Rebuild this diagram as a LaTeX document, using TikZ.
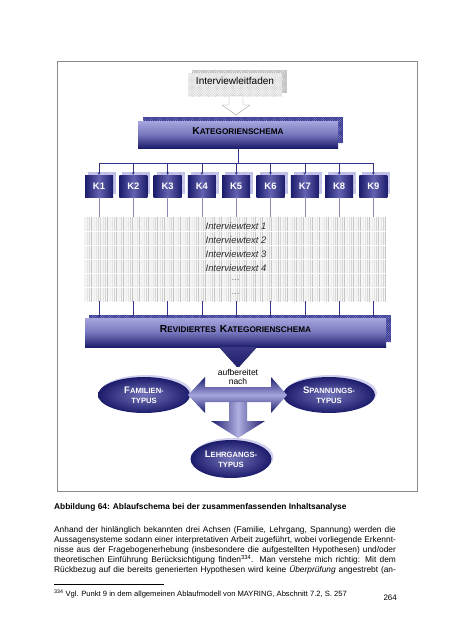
\documentclass[tikz,border=0pt]{standalone}
\usepackage{fontspec}
\setmainfont{Liberation Sans}
\usetikzlibrary{patterns,fit,shapes.geometric,arrows.meta}
\definecolor{navy}{HTML}{1C1C6C}
\definecolor{lav}{HTML}{A6A6DE}
\definecolor{midb}{HTML}{6262B0}
\definecolor{shad}{HTML}{3A3A92}
\definecolor{linec}{HTML}{34348A}
\definecolor{greyline}{HTML}{8888B4}
\definecolor{framec}{HTML}{8A8A8A}
\newcommand{\SCa}[2]{{\fontsize{13.5}{15}\selectfont #1}{\fontsize{10.8}{13}\selectfont #2}}
\newcommand{\SCb}[2]{{\fontsize{12.5}{13}\selectfont #1}{\fontsize{10}{13}\selectfont #2}}
\newcommand{\SCs}[1]{{\fontsize{10}{13}\selectfont #1}}
\def\pxu{1.3166pt}
\begin{document}
\begin{tikzpicture}[x=1.3166pt, y=-1.3166pt,
 ilfbox/.style={inner sep=0pt, preaction={fill=gray!12}, pattern=crosshatch dots, pattern color=gray!55, font=\fontsize{13.2}{15}\selectfont},
 graysh/.style={preaction={fill=gray!50}, pattern=crosshatch dots, pattern color=white},
 navysh/.style={preaction={fill=shad}, pattern=crosshatch dots, pattern color=lav},
 bigbox/.style={inner sep=0pt, top color=lav, bottom color=navy, middle color=midb!70!lav, font=\bfseries, text=black},
 kbox/.style={inner sep=0pt, minimum width={28*\pxu}, minimum height={22*\pxu}, text height=9pt, text depth=0pt, left color=navy, right color=navy, middle color=midb, text=white, font=\bfseries\fontsize{12.4}{14}\selectfont},
 ksh/.style={preaction={fill=lav!80}, pattern=crosshatch dots, pattern color=white},
 txtblock/.style={inner sep=0pt, preaction={fill=gray!8}, pattern=vertical lines, pattern color=gray!45},
 itxt/.style={font=\itshape\fontsize{12.4}{14}\selectfont, text=black!82, inner sep=0pt},
 bus/.style={draw=linec, line width=0.6pt},
 busarrow/.style={bus, -{Stealth[length=3.5pt,width=3.5pt]}},
 ell/.style={ellipse, inner sep=0pt, inner color=midb!90!white, outer color=navy, text=white, align=center, font=\bfseries\fontsize{12.5}{13}\selectfont},
 ellsh/.style={ellipse, inner sep=0pt, fill=lav!50},
 body/.style={anchor=base west, inner sep=0pt, font=\fontsize{11}{13}\selectfont},
]
\useasboundingbox[fill=white] (0,0) rectangle (452,640);

% frame
\node[draw=framec, line width=1.2pt, fit={(57,61) (417,491)}, inner sep=0pt] (frame) {};

% Interviewleitfaden
\path[graysh] (192,70) rectangle (287,93);
\node[ilfbox, fit={(188,73) (282,96)}] (ilf) {Interviewleitfaden};
\draw[gray!70, fill=white, line width=0.6pt] (229,96) -- (243,96) -- (243,105) -- (250,105) -- (236,115) -- (222,105) -- (229,105) -- cycle;

% Kategorienschema
\path[navysh] (143,117) rectangle (343,143);
\node[bigbox, fit={(138,121) (338,148)}] (kat) {\SCa{K}{ATEGORIENSCHEMA}};

% K boxes
\foreach \i in {1,...,9}{
  \pgfmathsetmacro{\cx}{99+34.3*(\i-1)}
  \path[ksh] ({\cx-11},172) rectangle ({\cx+17},194);
  \node[kbox] (k\i) at (\cx,186) {K\i};
}
\foreach \i in {1,...,9} \draw[busarrow] (kat.south) -- ++(0,15) -| (k\i.north);

% interview text block
\node[txtblock, fit={(84,217) (386,301)}] (blk) {};
\foreach \i in {1,...,5} \draw[white, line width=0.9pt] (84,{217+14*\i}) -- (386,{217+14*\i});
\foreach \i in {1,...,9} \draw[greyline, line width=0.6pt] (k\i.south) -- (k\i.south |- blk.north);
\node[itxt] (t1) at (236,226) {Interviewtext 1};
\node[itxt] (t2) at (236,240) {Interviewtext 2};
\node[itxt] (t3) at (236,254) {Interviewtext 3};
\node[itxt] (t4) at (236,268) {Interviewtext 4};
\node[itxt, text=black!55] (t5) at (236,280) {...};
\node[itxt, text=black!55] (t6) at (236,294) {...};

% revidiertes Kategorienschema
\path[navysh] (89,315) rectangle (391,342);
\node[bigbox, fit={(85,318) (386,347)}] (rev) {\SCa{R}{EVIDIERTES}\enspace\SCa{K}{ATEGORIENSCHEMA}};
\foreach \i in {1,...,9} \draw[busarrow] (k\i.south |- blk.south) -- (k\i.south |- rev.north);

% ellipses
\node[ellsh, minimum width={92*\pxu}, minimum height={36*\pxu}] at (146,393) {};
\node[ellsh, minimum width={92*\pxu}, minimum height={36*\pxu}] at (331,393) {};
\node[ellsh, minimum width={81*\pxu}, minimum height={38*\pxu}] at (233,457) {};
\node[ell, minimum width={92*\pxu}, minimum height={36*\pxu}] (fam) at (144,395) {\SCb{F}{AMILIEN-}\\\SCs{TYPUS}};
\node[ell, minimum width={92*\pxu}, minimum height={36*\pxu}] (spa) at (329,395) {\SCb{S}{PANNUNGS-}\\\SCs{TYPUS}};
\node[ell, minimum width={81*\pxu}, minimum height={38*\pxu}] (leh) at (231,459) {\SCb{L}{EHRGANGS-}\\\SCs{TYPUS}};

% arrows
\fill[top color=navy!80!lav, bottom color=navy] (219,347) -- (257,347) -- (238,368) -- cycle;
\path[left color=navy, right color=navy, middle color=lav!90!white] (229,401) -- (247,401) -- (247,421) -- (265,421) -- (238,438) -- (211,421) -- (229,421) -- cycle;
\path[top color=navy, bottom color=navy, middle color=lav] (188,395) -- (205,377) -- (205,387) -- (271,387) -- (271,377) -- (287,395) -- (271,413) -- (271,402) -- (205,402) -- (205,413) -- cycle;
\node[fill=white, inner sep=0pt, minimum width={61*\pxu}, minimum height={20*\pxu}, align=center, font=\fontsize{11.2}{13}\selectfont] (aufb) at (238,377) {aufbereitet\\nach};

% text below
\node[body, font=\bfseries\fontsize{11}{13}\selectfont] (cap) at (54,509.5) {Abbildung 64: Ablaufschema bei der zusammenfassenden Inhaltsanalyse};
\node[body] (p1) at (54,532.8) {\hbox to 450pt{Anhand der hinlänglich bekannten drei Achsen (Familie, Lehrgang, Spannung) werden die}};
\node[body] (p2) at (54,542.8) {\hbox to 450pt{Aussagensysteme sodann einer interpretativen Arbeit zugeführt, wobei vorliegende Erkennt-}};
\node[body] (p3) at (54,552.8) {\hbox to 450pt{nisse aus der Fragebogenerhebung (insbesondere die aufgestellten Hypothesen) und/oder}};
\node[body] (p4) at (54,562.8) {\hbox to 450pt{theoretischen Einführung Berücksichtigung finden\textsuperscript{334}. Man verstehe mich richtig: Mit dem}};
\node[body] (p5) at (54,572.8) {\hbox to 450pt{Rückbezug auf die bereits generierten Hypothesen wird keine \textit{Überprüfung} angestrebt (an-}};
\draw[line width=0.5pt] (54,584) -- (164,584);
\node[body, font=\fontsize{10}{12}\selectfont] (fn) at (54,596) {\textsuperscript{334} Vgl. Punkt 9 in dem allgemeinen Ablaufmodell von MAYRING, Abschnitt 7.2, S. 257};
\node[body, anchor=base east, font=\fontsize{10.5}{12}\selectfont] (pg) at (397,600.5) {264};
\end{tikzpicture}
\end{document}
